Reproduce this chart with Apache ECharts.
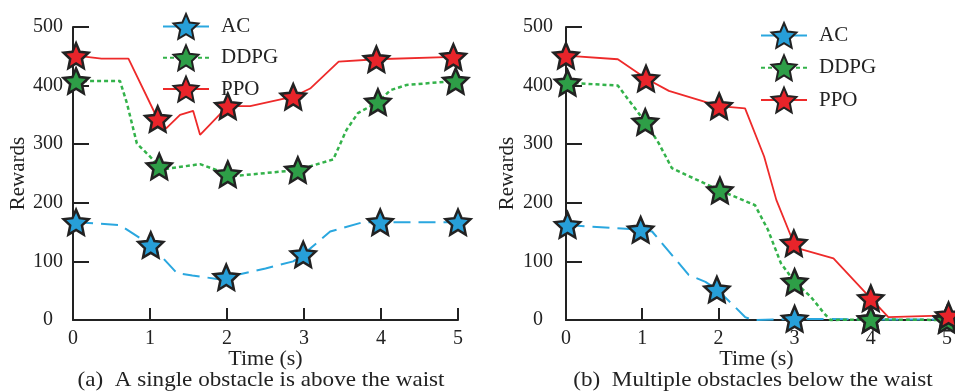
<!DOCTYPE html>
<html><head><meta charset="utf-8">
<script src="https://cdn.jsdelivr.net/npm/echarts@6/dist/echarts.min.js"></script>
<style>html,body{margin:0;padding:0;background:#fff}#c{width:955px;height:392px}</style>
</head><body><div id="c"></div>
<script>
// ---------- data ----------
const seriesNames = ['AC', 'DDPG', 'PPO'];
const xTicks = [0, 1, 2, 3, 4, 5];
const yTicks = [0, 100, 200, 300, 400, 500];
const captions = ['(a)  A single obstacle is above the waist', '(b)  Multiple obstacles below the waist'];

// (a) single obstacle above the waist
const acA_curve   = [[0.61,162],[1.35,80],[1.55,76],[1.87,70],[2.5,88],[2.86,100],[3.34,151],[3.77,167]];
const acA_marks   = [[0.04,167],[1.01,128],[1.99,73],[2.99,112],[3.99,167],[5.0,167]];
const ddpgA_curve = [[0.61,408],[0.70,370],[0.83,301],[1.0,279],[1.22,258],[1.65,266],[2.12,246],[3.38,274],[3.55,324],[3.70,353],[4.12,392],[4.33,401]];
const ddpgA_marks = [[0.04,408],[1.12,262],[2.01,249],[2.92,256],[3.96,372],[4.97,408]];
const ppoA_curve  = [[0.37,446],[0.72,446],[1.21,327],[1.39,350],[1.56,357],[1.65,316],[2.30,365],[3.08,395],[3.45,441]];
const ppoA_marks  = [[0.04,451],[1.10,343],[2.01,365],[2.86,381],[3.94,445],[4.94,449]];

// (b) multiple obstacles below the waist
const acB_curve   = [[1.13,151],[1.61,77],[1.83,65],[2.22,22],[2.35,5],[2.45,0]];
const acB_marks   = [[0.02,162],[0.98,154],[1.98,52],[3.0,2],[4.0,1],[5.0,1]];
const ddpgB_curve = [[0.68,400],[0.79,381],[1.22,301],[1.39,259],[2.48,196],[2.65,154],[2.82,97],[3.21,40],[3.39,11],[3.47,0]];
const ddpgB_marks = [[0.02,405],[1.04,338],[2.02,221],[3.0,65],[4.0,1],[5.0,0]];
const ppoB_curve  = [[0.68,445],[1.35,391],[2.35,361],[2.60,279],[2.76,205],[3.08,121],[3.51,105],[4.23,5]];
const ppoB_marks  = [[0.0,451],[1.05,412],[2.01,365],[2.99,131],[4.0,37],[5.02,8]];

// ---------- styles ----------
const FONT = "'Liberation Serif','Times New Roman',serif";
const INK = '#222';
const lineColors = {AC:'#2aa7df', DDPG:'#33b24a', PPO:'#ee2a2a'};
const fillColors = {AC:'#279fd8', DDPG:'#2e9e47', PPO:'#e8242a'};
const lineStyles = {
  AC:   {width:2, type:[17,8]},
  DDPG: {width:2.5, type:[4,3]},
  PPO:  {width:1.8, type:'solid'}
};

function starPath(inner){
  let pts = [];
  for (let i=0;i<10;i++){
    const r = i%2===0 ? 50 : 50*inner;
    const a = -Math.PI/2 + i*Math.PI/5;
    pts.push((50+r*Math.cos(a)).toFixed(2)+','+(50+r*Math.sin(a)).toFixed(2));
  }
  return 'path://M'+pts.join(' L')+' Z';
}
const STAR = starPath(0.47);

function build(curve, marks){
  const all = curve.map(p=>({value:p, symbol:'none'}))
    .concat(marks.map(p=>({value:p})));
  all.sort((a,b)=>a.value[0]-b.value[0]);
  return all;
}

function mkSeries(name, curve, marks, idx){
  return {
    name, type:'line', xAxisIndex:idx, yAxisIndex:idx,
    data: build(curve, marks),
    symbol: STAR, symbolSize: 25, showAllSymbol:true, clip:false,
    lineStyle: Object.assign({color: lineColors[name]}, lineStyles[name]),
    itemStyle: {color: fillColors[name], borderColor: INK, borderWidth: 2.5},
    emphasis: {disabled:true}, animation:false
  };
}

function xAxis(idx){
  return {
    gridIndex: idx, type:'value', min:0, max:5, interval:1,
    name:'Time (s)', nameLocation:'middle', nameGap:28, nameMoveOverlap:false,
    nameTextStyle:{fontFamily:FONT, fontSize:22, color:INK},
    axisLine:{lineStyle:{color:INK, width:2}},
    axisTick:{inside:true, length:12, lineStyle:{color:INK, width:2}},
    axisLabel:{margin:9, fontFamily:FONT, fontSize:20, color:INK,
      formatter: v => xTicks.includes(v) ? String(v) : ''},
    splitLine:{show:false}
  };
}
function yAxis(idx, margin, nameGap){
  return {
    gridIndex: idx, type:'value', min:0, max:500, interval:100,
    name:'Rewards', nameLocation:'middle', nameGap:nameGap, nameMoveOverlap:false,
    nameTextStyle:{fontFamily:FONT, fontSize:21, color:INK},
    axisLine:{show:true, lineStyle:{color:INK, width:2}},
    axisTick:{show:true, inside:true, length:16, lineStyle:{color:INK, width:2}},
    axisLabel:{margin:margin, align:'center', fontFamily:FONT, fontSize:20, color:INK,
      formatter: v => yTicks.includes(v) ? String(v) : ''},
    splitLine:{show:false}
  };
}
function legend(left, top, gap){
  return {
    orient:'vertical', left, top, itemWidth:46, itemHeight:31, itemGap:gap,
    data: seriesNames.map(n => n==='AC' ? {name:n, lineStyle:{type:'solid'}} : {name:n}),
    textStyle:{fontFamily:FONT, fontSize:21, color:INK, padding:[0,0,0,7]},
    selectedMode:false
  };
}

const chart = echarts.init(document.getElementById('c'));
chart.setOption({
  animation:false,
  backgroundColor:'#fff',
  grid:[
    {left:73, top:27, width:385, height:293},
    {left:566, top:27, width:385, height:293}
  ],
  xAxis:[xAxis(0), xAxis(1)],
  yAxis:[yAxis(0, 25, 44), yAxis(1, 28, 48)],
  legend:[legend(157, 8, 4.5), legend(755, 17, 5.5)],
  series:[
    mkSeries('AC', acA_curve, acA_marks, 0),
    mkSeries('DDPG', ddpgA_curve, ddpgA_marks, 0),
    mkSeries('PPO', ppoA_curve, ppoA_marks, 0),
    mkSeries('AC', acB_curve, acB_marks, 1),
    mkSeries('DDPG', ddpgB_curve, ddpgB_marks, 1),
    mkSeries('PPO', ppoB_curve, ppoB_marks, 1)
  ],
  graphic:[
    {type:'text', x:261, y:380, scaleX:1.1, style:{text:captions[0], font:"21px "+FONT, fill:INK, textAlign:'center', textVerticalAlign:'middle'}},
    {type:'text', x:753, y:380, scaleX:1.1, style:{text:captions[1], font:"21px "+FONT, fill:INK, textAlign:'center', textVerticalAlign:'middle'}}
  ]
});
</script></body></html>
